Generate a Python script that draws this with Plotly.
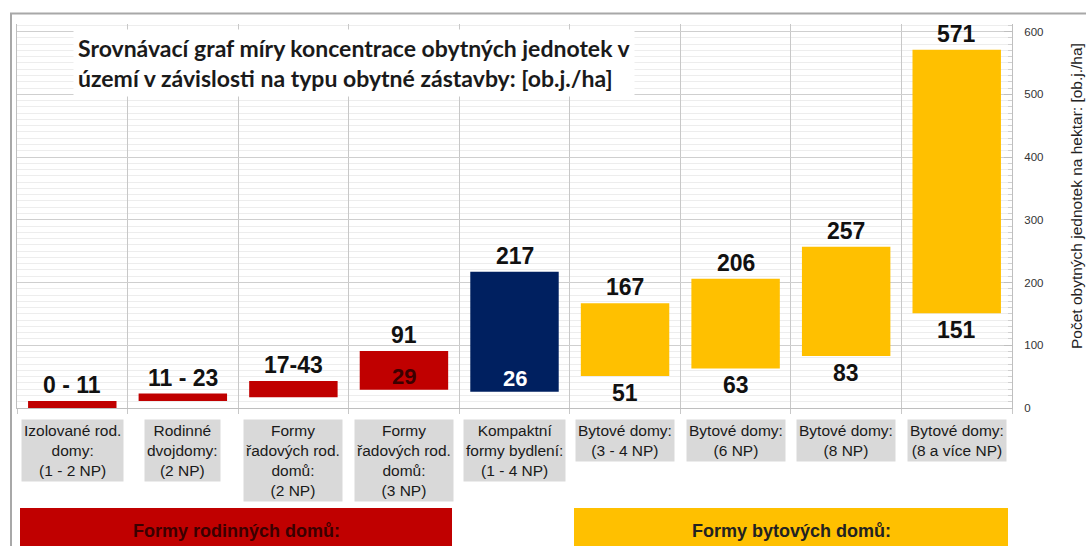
import plotly.graph_objects as go

# ---------------- data ----------------
categories = [
    "Izolované rod.<br>domy:<br>(1 - 2 NP)",
    "Rodinné<br>dvojdomy:<br>(2 NP)",
    "Formy<br>řadových rod.<br>domů:<br>(2 NP)",
    "Formy<br>řadových rod.<br>domů:<br>(3 NP)",
    "Kompaktní<br>formy bydlení:<br>(1 - 4 NP)",
    "Bytové domy:<br>(3 - 4 NP)",
    "Bytové domy:<br>(6 NP)",
    "Bytové domy:<br>(8 NP)",
    "Bytové domy:<br>(8 a více NP)",
]
low_values = [0, 11, 17, 29, 26, 51, 63, 83, 151]
high_values = [11, 23, 43, 91, 217, 167, 206, 257, 571]
top_labels = ["0 - 11", "11 - 23", "17-43", "91", "217", "167", "206", "257", "571"]
bottom_labels = ["", "", "", "29", "26", "51", "63", "83", "151"]
y_ticks = [0, 100, 200, 300, 400, 500, 600]
group_labels = ["Formy rodinných domů:", "Formy bytových domů:"]
title_text = ("Srovnávací graf míry koncentrace obytných jednotek v<br>"
              "území v závislosti na typu obytné zástavby: [ob.j./ha]")
axis_title = "Počet obytných jednotek na hektar: [ob.j./ha]"

# ---------------- styles ----------------
RED, NAVY, YELLOW = "#c00000", "#002060", "#ffc000"
bar_colors = [RED, RED, RED, RED, NAVY, YELLOW, YELLOW, YELLOW, YELLOW]
bottom_inside = [False, False, False, True, True, False, False, False, False]
bottom_colors = ["#111", "#111", "#111", "#3a0000", "#ffffff", "#111", "#111", "#111", "#111"]

W, H = 1086, 546
ML, MR, MT, MB = 17, 74, 24, 138
PW, PH = W - ML - MR, H - MT - MB


def px_x(px):
    return (px - ML) / PW


def px_y(py):
    return (H - MB - py) / PH


FONT = "Arial, 'Liberation Sans', sans-serif"
xs = list(range(len(categories)))

fig = go.Figure()
fig.add_trace(go.Bar(
    x=xs,
    y=[h - l for h, l in zip(high_values, low_values)],
    base=low_values,
    marker=dict(color=bar_colors, line=dict(width=0)),
    width=0.8,
    hoverinfo="skip",
    showlegend=False,
))

annotations = []
# value labels
for x, h, l, t, b, inside, bc in zip(xs, high_values, low_values, top_labels,
                                      bottom_labels, bottom_inside, bottom_colors):
    annotations.append(dict(x=x, y=h, xref="x", yref="y", text="<b>%s</b>" % t,
                            showarrow=False, yanchor="bottom", yshift=1,
                            font=dict(family=FONT, size=23, color="#111")))
    if b:
        if inside:
            annotations.append(dict(x=x, y=l, xref="x", yref="y", text="<b>%s</b>" % b,
                                    showarrow=False, yanchor="bottom", yshift=-1,
                                    font=dict(family=FONT, size=22, color=bc)))
        else:
            annotations.append(dict(x=x, y=l, xref="x", yref="y", text="<b>%s</b>" % b,
                                    showarrow=False, yanchor="top", yshift=-2,
                                    font=dict(family=FONT, size=23, color=bc)))

# category labels in grey boxes
for x, c in zip(xs, categories):
    annotations.append(dict(x=x, y=px_y(419), xref="x", yref="paper", text=c,
                            showarrow=False, yanchor="top", xanchor="center",
                            bgcolor="#d9d9d9", borderpad=2,
                            font=dict(family=FONT, size=15.5, color="#1a1a1a")))

# title
annotations.append(dict(x=px_x(73), y=px_y(29), xref="paper", yref="paper",
                        text=title_text, showarrow=False, xanchor="left", yanchor="top",
                        align="left", bgcolor="#ffffff", borderpad=4,
                        font=dict(family="Lato, 'Open Sans', sans-serif", size=23,
                                  color="#1a1a1a", weight=700)))

# axis title
annotations.append(dict(x=px_x(1076), y=px_y(196), xref="paper", yref="paper",
                        text=axis_title, showarrow=False, textangle=-90,
                        xanchor="center", yanchor="middle",
                        font=dict(family=FONT, size=15.5, color="#222")))

# group banners
shapes = []
banners = [(20, 452, RED, "#3a0000"), (574, 1008, YELLOW, "#222")]
for (x0, x1, col, tcol), lab in zip(banners, group_labels):
    shapes.append(dict(type="rect", xref="paper", yref="paper",
                       x0=px_x(x0), x1=px_x(x1), y0=px_y(560), y1=px_y(508),
                       fillcolor=col, line=dict(width=0), layer="above"))
    annotations.append(dict(x=px_x((x0 + x1) / 2), y=px_y(531), xref="paper", yref="paper",
                            text="<b>%s</b>" % lab, showarrow=False,
                            xanchor="center", yanchor="middle",
                            font=dict(family=FONT, size=18, color=tcol)))

# outer frame
shapes.append(dict(type="rect", xref="paper", yref="paper",
                   x0=px_x(11), x1=px_x(1100), y0=px_y(560), y1=px_y(13.5),
                   fillcolor="rgba(0,0,0,0)", line=dict(color="#a8a8a8", width=2),
                   layer="below"))

fig.update_layout(
    width=W, height=H,
    margin=dict(l=ML, r=MR, t=MT, b=MB, pad=0),
    paper_bgcolor="#ffffff", plot_bgcolor="#ffffff",
    showlegend=False,
    annotations=annotations,
    shapes=shapes,
    bargap=0.2,
    xaxis=dict(range=[-0.5, len(categories) - 0.5],
               tickvals=[i - 0.5 for i in range(len(categories) + 1)],
               showticklabels=False, showgrid=True, gridcolor="#c8c8c8", gridwidth=1,
               ticks="outside", ticklen=5, tickcolor="#c8c8c8",
               showline=True, linecolor="#bfbfbf", zeroline=False, fixedrange=True),
    yaxis=dict(side="right", range=[0, 612], tickvals=y_ticks,
               showgrid=True, gridcolor="#cfcfcf", gridwidth=1,
               ticks="inside", ticklen=8, tickcolor="#bfbfbf",
               minor=dict(dtick=10, tick0=0, showgrid=True, gridcolor="#ededed",
                          ticks="inside", ticklen=4, tickcolor="#d0d0d0"),
               showline=True, mirror=True, linecolor="#bfbfbf",
               tickfont=dict(family=FONT, size=11.5, color="#333"),
               ticklabelstandoff=9, zeroline=False, fixedrange=True),
)

fig.write_html("out.html",
               config={"displayModeBar": False},
               post_script="document.body.style.margin='0px';"
                           "document.body.style.overflow='hidden';")
